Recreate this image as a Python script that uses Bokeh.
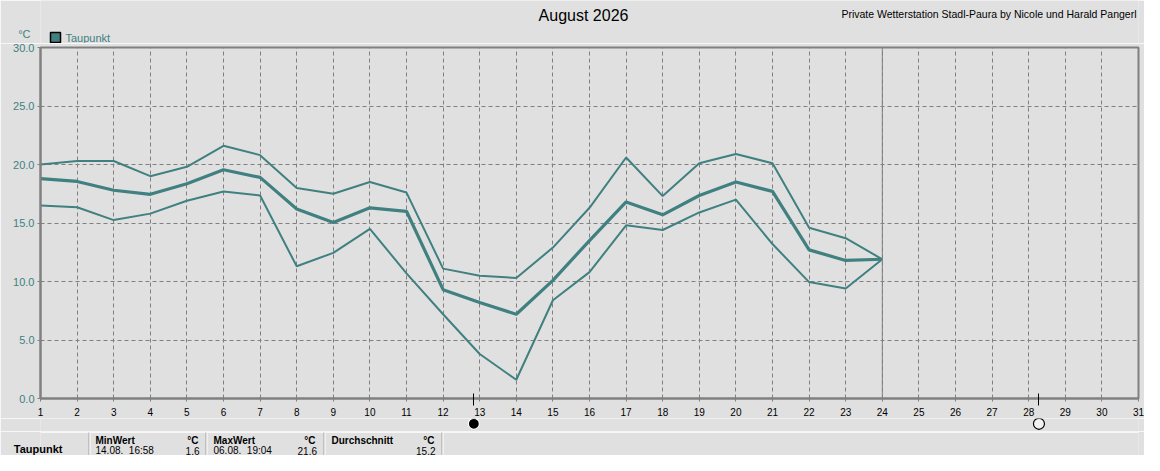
from bokeh.plotting import figure
from bokeh.models import Range1d, FixedTicker, PrintfTickFormatter, Span
from bokeh.layouts import column
from bokeh.embed import file_html
from bokeh.resources import INLINE
from bokeh.core.properties import value

# ---------------- data ----------------
days = list(range(1, 25))
max_vals = [20.0, 20.3, 20.3, 19.0, 19.8, 21.6, 20.8, 18.0, 17.5, 18.5, 17.6, 11.1,
            10.5, 10.3, 12.9, 16.3, 20.6, 17.3, 20.1, 20.9, 20.1, 14.6, 13.7, 11.9]
mean_vals = [18.8, 18.55, 17.8, 17.45, 18.35, 19.55, 18.9, 16.2, 15.05, 16.3, 16.0, 9.3,
             8.2, 7.2, 10.1, 13.5, 16.8, 15.7, 17.35, 18.5, 17.7, 12.7, 11.8, 11.9]
min_vals = [16.5, 16.35, 15.25, 15.8, 16.9, 17.7, 17.35, 11.3, 12.45, 14.5, 10.7, 7.2,
            3.8, 1.6, 8.4, 10.8, 14.8, 14.4, 15.9, 17.0, 13.2, 9.95, 9.4, 11.9]
x_ticks = list(range(1, 32))
y_ticks = [0, 5, 10, 15, 20, 25, 30]
current_day = 24
moon_days = [12.84, 28.28]          # new moon, full moon
moon_fill = ["black", "#f2f2f2"]
moon_line = ["white", "black"]

title_text = "August 2026"
credit_text = "Private Wetterstation Stadl-Paura by Nicole und Harald Pangerl"
series_name = "Taupunkt"
unit = "°C"
stat_headers = ["MinWert", "MaxWert", "Durchschnitt"]
stat_times = ["14.08.\u00a0\u00a016:58", "06.08.\u00a0\u00a019:04"]
stat_values = ["1.6", "21.6", "15.2"]

# ---------------- style ----------------
BG = "#e0e0e0"
TEAL = "#408080"
GRAY = "#808080"
FONT = "Liberation Sans"
W = 1144
L, R = 40, 6              # left / right borders (frames are aligned in the column)
FW = W - L - R


def pixel_fig(h, with_yaxis=False):
    f = figure(frame_width=FW, frame_height=h, x_range=Range1d(L, L + FW),
               y_range=Range1d(h, 0),
               output_backend="svg", toolbar_location=None,
               min_border_left=L, min_border_right=R, min_border_top=0, min_border_bottom=0,
               x_axis_location=None, y_axis_location="left" if with_yaxis else None,
               background_fill_color=BG, border_fill_color=BG, outline_line_color=None)
    f.grid.visible = False
    if with_yaxis:
        ax = f.yaxis[0]
        ax.axis_line_color = None
        ax.major_tick_line_color = None
        ax.minor_tick_line_color = None
        ax.major_tick_out = 0
        ax.major_tick_in = 0
        ax.major_label_text_font = FONT
    return f


# ---------------- header ----------------
HH = 43
hdr = pixel_fig(HH, with_yaxis=True)
hdr.yaxis.ticker = FixedTicker(ticks=[33])
hdr.yaxis.major_label_overrides = {33: unit}
hdr.yaxis.major_label_text_color = TEAL
hdr.yaxis.major_label_text_font_size = "11px"
hdr.yaxis.major_label_standoff = 10
hdr.text(x=[583], y=[15], text=[title_text], text_font=value(FONT), text_font_size="16px",
         text_color="black", text_align="center", text_baseline="middle")
hdr.text(x=[1136], y=[13], text=[credit_text], text_font=value(FONT),
         text_font_size="10.5px", text_color="black", text_align="right",
         text_baseline="middle")
hdr.rect(x=[55], y=[37], width=10, height=10, fill_color=TEAL, line_color="black",
         line_width=1.5)
hdr.text(x=[65], y=[37.5], text=[series_name], text_font=value(FONT), text_font_size="11px",
         text_color=TEAL, text_align="left", text_baseline="middle")

# ---------------- chart ----------------
xr = Range1d(1, 31)
p = figure(frame_width=FW, frame_height=351, x_range=xr, y_range=Range1d(0, 30),
           output_backend="svg", toolbar_location=None,
           min_border_left=L, min_border_right=R, min_border_top=4, min_border_bottom=20,
           background_fill_color=BG, border_fill_color=BG,
           outline_line_color=GRAY, outline_line_width=2)

p.xaxis.ticker = FixedTicker(ticks=x_ticks, minor_ticks=moon_days)
p.yaxis.ticker = FixedTicker(ticks=y_ticks)
p.yaxis.formatter = PrintfTickFormatter(format="%.1f")
for ax in (p.xaxis[0], p.yaxis[0]):
    ax.axis_line_color = GRAY
    ax.axis_line_width = 2
    ax.major_tick_line_color = GRAY
    ax.major_tick_in = 0
    ax.major_tick_out = 3
    ax.major_label_text_font = FONT
p.yaxis.minor_tick_line_color = None
p.xaxis.minor_tick_line_color = "black"
p.xaxis.minor_tick_line_width = 1
p.xaxis.minor_tick_in = 5
p.xaxis.minor_tick_out = 7
p.xaxis.major_label_text_font_size = "10px"
p.xaxis.major_label_text_color = "black"
p.xaxis.major_label_standoff = 2
p.yaxis.major_label_text_font_size = "11px"
p.yaxis.major_label_text_color = TEAL
p.yaxis.major_label_standoff = 3

p.xgrid.ticker = FixedTicker(ticks=x_ticks)
p.ygrid.ticker = FixedTicker(ticks=y_ticks)
p.grid.grid_line_color = GRAY
p.grid.grid_line_dash = "4 3"
p.grid.grid_line_width = 1

p.add_layout(Span(location=current_day, dimension="height", line_color=GRAY, line_width=1))

p.line(days, max_vals, line_color=TEAL, line_width=2)
p.line(days, min_vals, line_color=TEAL, line_width=2)
p.line(days, mean_vals, line_color=TEAL, line_width=3.2)

# ---------------- moon phase strip ----------------
MH = 13
moon = figure(frame_width=FW, frame_height=MH, x_range=xr, y_range=Range1d(MH, 0),
              output_backend="svg", toolbar_location=None,
              min_border_left=L, min_border_right=R, min_border_top=0, min_border_bottom=0,
              x_axis_location=None, y_axis_location=None,
              background_fill_color=BG, border_fill_color=BG, outline_line_color=None)
moon.grid.visible = False
moon.scatter(x=moon_days, y=[5.3, 5.3], marker="circle", size=11,
             fill_color=moon_fill, line_color=moon_line, line_width=1.2)

# ---------------- statistics table ----------------
TH = 24
ROW1, ROW2 = 9, 19
t = pixel_fig(TH, with_yaxis=True)
t.yaxis.ticker = FixedTicker(ticks=[ROW2])
t.yaxis.major_label_overrides = {ROW2: series_name}
t.yaxis.major_label_text_color = "black"
t.yaxis.major_label_text_font_size = "11px"
t.yaxis.major_label_text_font_style = "bold"
t.yaxis.major_label_standoff = -22

t.segment(x0=[L], y0=[0.5], x1=[L + FW], y1=[0.5], line_color="white", line_width=1.5)
sep_x = [88.5, 205.5, 323.5, 441.5]
t.segment(x0=sep_x, y0=[1] * 4, x1=sep_x, y1=[TH] * 4, line_color="#a0a0a0", line_width=1)
t.segment(x0=[s + 1 for s in sep_x], y0=[1] * 4, x1=[s + 1 for s in sep_x], y1=[TH] * 4,
          line_color="white", line_width=1)

t.text(x=[95, 213, 331], y=[ROW1] * 3, text=stat_headers,
       text_font=value(FONT), text_font_size="10px", text_font_style="bold",
       text_color="black", text_align="left", text_baseline="middle")
t.text(x=[198, 315, 434], y=[ROW1] * 3, text=[unit] * 3,
       text_font=value(FONT), text_font_size="10px", text_font_style="bold",
       text_color="black", text_align="right", text_baseline="middle")
t.text(x=[95, 213], y=[ROW2] * 2, text=stat_times,
       text_font=value(FONT), text_font_size="10px", text_color="black",
       text_align="left", text_baseline="middle")
t.text(x=[199, 316.5, 435], y=[ROW2] * 3, text=stat_values,
       text_font=value(FONT), text_font_size="10px", text_color="black",
       text_align="right", text_baseline="middle")

layout = column(hdr, p, moon, t, spacing=0)
open("out.html", "w").write(file_html(layout, INLINE))
